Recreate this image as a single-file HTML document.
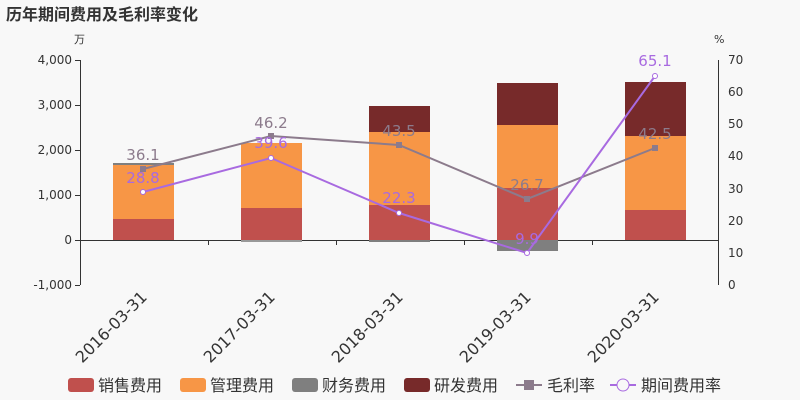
<!DOCTYPE html>
<html><head><meta charset="utf-8"><style>
body{margin:0;background:#f8f8f8;}
svg{display:block;font-family:"DejaVu Sans","Noto Sans CJK SC",sans-serif;}
</style></head><body>
<svg width="800" height="400" viewBox="0 0 800 400">
<rect width="800" height="400" fill="#f8f8f8"/>
<text x="6" y="20" font-size="16" font-weight="bold" fill="#333">历年期间费用及毛利率变化</text>
<text x="74" y="43" font-size="11" fill="#333">万</text>
<text x="714" y="43" font-size="11" fill="#333">%</text>
<g font-size="12" fill="#333" text-anchor="end">
<text x="72" y="64">4,000</text><text x="72" y="109">3,000</text><text x="72" y="154">2,000</text>
<text x="72" y="199">1,000</text><text x="72" y="244">0</text><text x="72" y="289">-1,000</text>
</g>
<g font-size="12" fill="#333">
<text x="728" y="64">70</text><text x="728" y="96">60</text><text x="728" y="128">50</text>
<text x="728" y="160">40</text><text x="728" y="193">30</text><text x="728" y="225">20</text>
<text x="728" y="257">10</text><text x="728" y="289">0</text>
</g>
<g stroke="#333" stroke-width="1">
<line x1="80.5" y1="60" x2="80.5" y2="285"/>
<line x1="718.5" y1="60" x2="718.5" y2="285"/>
<line x1="80" y1="240.5" x2="718" y2="240.5"/>
<line x1="208.5" y1="240" x2="208.5" y2="245"/><line x1="336.5" y1="240" x2="336.5" y2="245"/>
<line x1="464.5" y1="240" x2="464.5" y2="245"/><line x1="592.5" y1="240" x2="592.5" y2="245"/>
<line x1="75" y1="60.5" x2="80" y2="60.5"/><line x1="75" y1="105.5" x2="80" y2="105.5"/><line x1="75" y1="150.5" x2="80" y2="150.5"/><line x1="75" y1="195.5" x2="80" y2="195.5"/><line x1="75" y1="240.5" x2="80" y2="240.5"/><line x1="75" y1="285.5" x2="80" y2="285.5"/>
</g>
<rect x="113" y="219" width="61" height="21" fill="#c0504d"/>
<rect x="113" y="165" width="61" height="54" fill="#f79646"/>
<rect x="113" y="163" width="61" height="2" fill="#7f7f7f"/>
<rect x="241" y="208" width="61" height="32" fill="#c0504d"/>
<rect x="241" y="143" width="61" height="65" fill="#f79646"/>
<rect x="241" y="240" width="61" height="2" fill="#999"/>
<rect x="369" y="205" width="61" height="35" fill="#c0504d"/>
<rect x="369" y="132" width="61" height="73" fill="#f79646"/>
<rect x="369" y="106" width="61" height="26" fill="#772a2a"/>
<rect x="369" y="240" width="61" height="2" fill="#7f7f7f"/>
<rect x="497" y="188" width="61" height="52" fill="#c0504d"/>
<rect x="497" y="125" width="61" height="63" fill="#f79646"/>
<rect x="497" y="83" width="61" height="42" fill="#772a2a"/>
<rect x="497" y="240" width="61" height="11" fill="#7f7f7f"/>
<rect x="625" y="210" width="61" height="30" fill="#c0504d"/>
<rect x="625" y="136" width="61" height="74" fill="#f79646"/>
<rect x="625" y="82" width="61" height="54" fill="#772a2a"/>
<polyline points="143,169 271,136 399,145 527,199 655,148" fill="none" stroke="#8c7b8c" stroke-width="2"/>
<g fill="#8c7b8c"><rect x="140" y="166" width="6" height="6"/><rect x="268" y="133" width="6" height="6"/><rect x="396" y="142" width="6" height="6"/><rect x="524" y="196" width="6" height="6"/><rect x="652" y="145" width="6" height="6"/></g>
<polyline points="143,192 271,158 399,213 527,253 655,76" fill="none" stroke="#a86ae0" stroke-width="2"/>
<g fill="#fff" stroke="#a86ae0" stroke-width="1"><circle cx="143" cy="192" r="2.5"/><circle cx="271" cy="158" r="2.5"/><circle cx="399" cy="213" r="2.5"/><circle cx="527" cy="253" r="2.5"/><circle cx="655" cy="76" r="2.5"/></g>
<g font-size="15" text-anchor="middle" fill="#8c7b8c">
<text x="143" y="160">36.1</text><text x="271" y="128">46.2</text><text x="399" y="136">43.5</text><text x="527" y="190">26.7</text><text x="655" y="139">42.5</text>
</g>
<g font-size="15" text-anchor="middle" fill="#a86ae0">
<text x="143" y="183">28.8</text><text x="271" y="148">39.6</text><text x="399" y="203">22.3</text><text x="527" y="244">9.9</text><text x="655" y="66">65.1</text>
</g>
<g font-size="16" fill="#333" text-anchor="end">
<text transform="translate(148,298) rotate(-45)">2016-03-31</text>
<text transform="translate(276,298) rotate(-45)">2017-03-31</text>
<text transform="translate(404,298) rotate(-45)">2018-03-31</text>
<text transform="translate(532,298) rotate(-45)">2019-03-31</text>
<text transform="translate(660,298) rotate(-45)">2020-03-31</text>
</g>
<g font-size="16" fill="#333">
<rect x="68" y="378" width="26" height="14" rx="3" fill="#c0504d"/><text x="98" y="391">销售费用</text>
<rect x="180" y="378" width="26" height="14" rx="3" fill="#f79646"/><text x="210" y="391">管理费用</text>
<rect x="292" y="378" width="26" height="14" rx="3" fill="#7f7f7f"/><text x="322" y="391">财务费用</text>
<rect x="404" y="378" width="26" height="14" rx="3" fill="#772a2a"/><text x="434" y="391">研发费用</text>
<line x1="516" y1="385" x2="542" y2="385" stroke="#8c7b8c" stroke-width="2"/><rect x="524" y="380" width="10" height="10" fill="#8c7b8c"/><text x="547" y="391">毛利率</text>
<line x1="610" y1="385" x2="636" y2="385" stroke="#a86ae0" stroke-width="2"/><circle cx="623" cy="385" r="6" fill="#f8f8f8" stroke="#a86ae0"/><text x="641" y="391">期间费用率</text>
</g>
</svg>
</body></html>
